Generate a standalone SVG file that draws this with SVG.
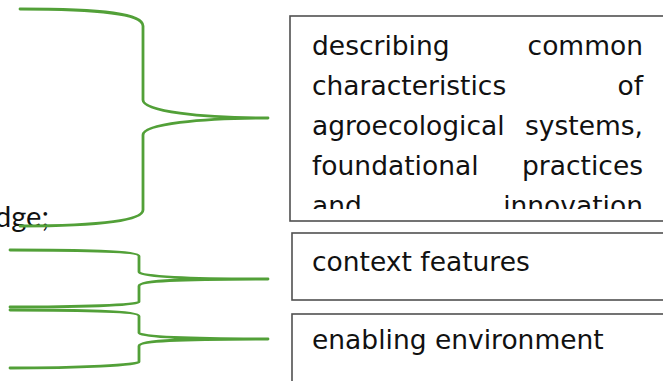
<svg xmlns="http://www.w3.org/2000/svg" width="663" height="381" viewBox="0 0 663 381">
  <style>
    .brace { fill: none; stroke: #52a038; stroke-width: 2.8; stroke-linejoin: round; stroke-linecap: round; }
    .box { fill: #ffffff; stroke: #505050; stroke-width: 1.6; }
    .label { font-family: "DejaVu Sans", "Liberation Sans", sans-serif; font-size: 26.5px; fill: #111111; }
    .end { text-anchor: end; }
    .side { font-family: "Lato", "Liberation Sans", sans-serif; font-size: 29px; fill: #111111; }
  </style>
  <defs>
    <clipPath id="box1-clip">
      <rect x="291" y="17" width="372" height="192"/>
    </clipPath>
  </defs>
  <rect width="663" height="381" fill="#ffffff"/>

  <!-- tail of the list item text on the left -->
  <text class="side end" x="49" y="227">dge;</text>

  <g id="connectors">
    <path class="brace" d="M20,9 C105,9 143,14 143,26 V100 C143,111 200,118 268,118 C200,118 143,124 143,135 V210 C143,220 105,226 20,226"/>
    <path class="brace" d="M10,250 C80,250 139,251 139,256 V272 C139,277 190,279 268,279 C190,279 139,280 139,286 V302 C139,305 80,307 10,307"/>
    <path class="brace" d="M10,310 C80,310 139,311 139,316 V333 C139,337 190,339 268,339 C190,339 139,340 139,346 V362 C139,365 80,368 10,368"/>
  </g>

  <g id="node-characteristics">
    <rect class="box" x="290" y="16" width="390" height="205"/>
    <g clip-path="url(#box1-clip)">
      <text class="label" x="312" y="55">describing</text>
      <text class="label end" x="643" y="55">common</text>
      <text class="label" x="312" y="95">characteristics</text>
      <text class="label end" x="643" y="95">of</text>
      <text class="label" x="312" y="135">agroecological</text>
      <text class="label end" x="643" y="135">systems,</text>
      <text class="label" x="312" y="175">foundational</text>
      <text class="label end" x="643" y="175">practices</text>
      <text class="label" x="312" y="215">and</text>
      <text class="label end" x="643" y="215">innovation</text>
    </g>
  </g>

  <g id="node-context">
    <rect class="box" x="292" y="233" width="390" height="67"/>
    <text class="label" x="312" y="271">context features</text>
  </g>

  <g id="node-enabling">
    <rect class="box" x="292" y="314" width="390" height="90"/>
    <text class="label" x="312" y="349">enabling environment</text>
  </g>
</svg>
